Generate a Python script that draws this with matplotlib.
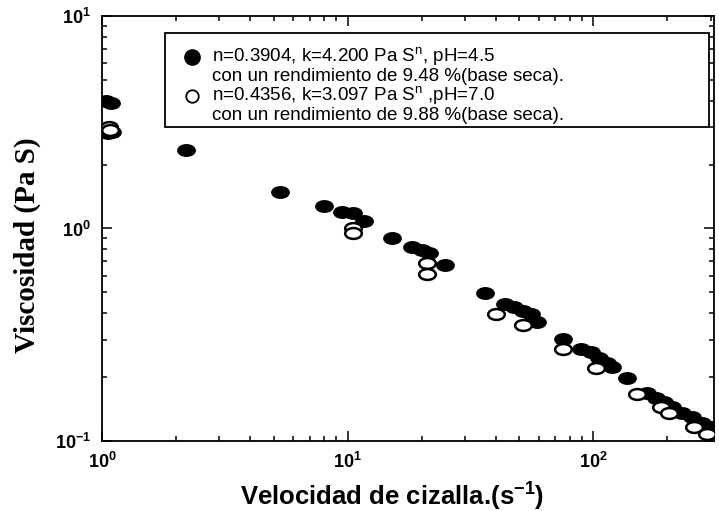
import numpy as np
import matplotlib
matplotlib.use('Agg')
import matplotlib.pyplot as plt
from matplotlib.path import Path
from matplotlib.patches import Rectangle

# Datos: pH 4.5 (rellenos) y pH 7.0 (vacios)
x_ph45 = [1.04, 1.09, 1.06, 1.10, 2.19, 5.29, 7.99, 9.45, 10.5, 11.7, 15.1,
          18.2, 20.0, 21.5, 24.8, 36.1, 43.5, 47.7, 51.5, 56.0, 59.2, 75.5,
          89.4, 98.2, 105.7, 114.0, 119.5, 137.0, 166.0, 180.0, 194.0, 210.0,
          230.0, 253.0, 277.0, 305.0]
y_ph45 = [4.0, 3.9, 2.8, 2.85, 2.33, 1.48, 1.27, 1.19, 1.18, 1.08, 0.907,
          0.814, 0.79, 0.763, 0.67, 0.497, 0.44, 0.425, 0.411, 0.398, 0.362, 0.303,
          0.272, 0.261, 0.247, 0.234, 0.222, 0.198, 0.169, 0.160, 0.152, 0.144,
          0.136, 0.129, 0.122, 0.117]

x_ph70 = [1.07, 1.08, 10.5, 10.5, 21.0, 21.0, 40.3, 51.5, 75.5, 103.0,
          151.0, 189.0, 204.0, 257.0, 291.0]
y_ph70 = [2.99, 2.90, 1.0, 0.95, 0.69, 0.614, 0.398, 0.35, 0.27, 0.22,
          0.167, 0.144, 0.135, 0.116, 0.108]

legend_lines = ['n=0.3904, k=4.200 Pa S$^\\mathregular{n}$, pH=4.5',
                'con un rendimiento de 9.48 %(base seca).',
                'n=0.4356, k=3.097 Pa S$^\\mathregular{n}$ ,pH=7.0',
                'con un rendimiento de 9.88 %(base seca).']

plt.rcParams['font.family'] = 'Liberation Sans'
plt.rcParams['mathtext.fontset'] = 'custom'
plt.rcParams['mathtext.rm'] = 'Liberation Sans'
plt.rcParams['mathtext.bf'] = 'Liberation Sans:bold'

# marcador eliptico (los puntos del original estan achatados)
circ = Path.unit_circle()
oval = Path(circ.vertices * np.array([1.0, 0.65]), circ.codes)

fig = plt.figure(figsize=(7.19, 5.11), dpi=100)
ax = fig.add_axes([0.1419, 0.137, 0.8512, 0.8317])

ax.plot(x_ph45, y_ph45, linestyle='none', marker=oval, ms=12,
        mfc='black', mec='black', mew=1.5, zorder=3)
ax.plot(x_ph70, y_ph70, linestyle='none', marker=oval, ms=12,
        mfc='white', mec='black', mew=1.8, zorder=4)

ax.set_xscale('log')
ax.set_yscale('log')
ax.set_xlim(1, 310)
ax.set_ylim(0.1, 10)

for s in ax.spines.values():
    s.set_linewidth(1.3)
ax.tick_params(which='both', direction='in', top=True, right=True, width=1.1)
ax.tick_params(which='major', length=7, pad=8, labelsize=13)
ax.tick_params(which='minor', length=3.5)
for lab in ax.get_xticklabels() + ax.get_yticklabels():
    lab.set_fontweight('bold')

ax.set_xlabel('Velocidad de cizalla.(s$^{\\mathbf{-1}}$)', fontsize=18.5,
              fontweight='bold')
ax.xaxis.set_label_coords(0.474, -0.09)
ax.set_ylabel('Viscosidad (Pa S)', fontsize=21, fontweight='bold',
              family='Liberation Serif')
ax.yaxis.set_label_coords(-0.1, 0.46)

# leyenda dibujada a mano
box = Rectangle((0.103, 0.739), 0.889, 0.221, transform=ax.transAxes,
                facecolor='white', edgecolor='black', lw=1.3, zorder=5)
ax.add_patch(box)
ys = [0.9035, 0.8576, 0.8118, 0.766]
for i, t in enumerate(legend_lines):
    ax.text(0.18, ys[i], t, transform=ax.transAxes, fontsize=13.5,
            va='center', ha='left', zorder=6)
ax.plot([0.147], [ys[0]], transform=ax.transAxes, marker='o', ms=11,
        mfc='black', mec='black', clip_on=False, zorder=6)
ax.plot([0.147], [ys[2]], transform=ax.transAxes, marker='o', ms=9,
        mfc='white', mec='black', mew=1.3, clip_on=False, zorder=6)

fig.savefig('out.png', dpi=100)
